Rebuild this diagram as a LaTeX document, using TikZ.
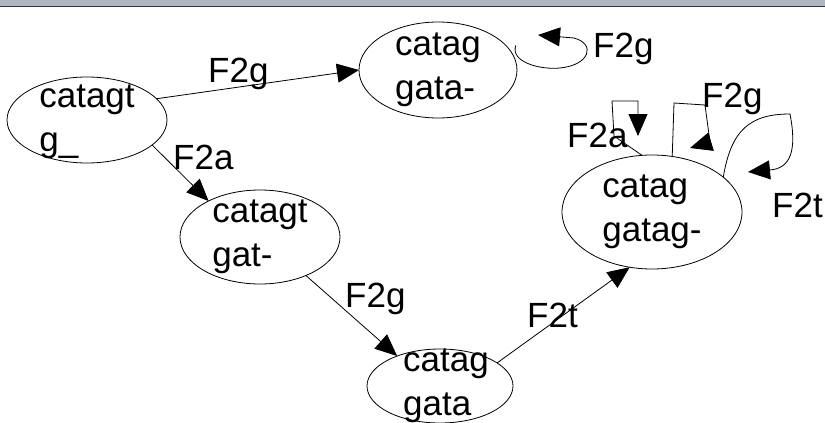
\documentclass[tikz,border=0pt]{standalone}
\usepackage{fontspec}
\setmainfont{Liberation Sans}
\usepackage{tikz}
\usetikzlibrary{arrows.meta,shapes.geometric,calc}
\definecolor{band}{HTML}{AEB6BF}
\definecolor{bandline}{HTML}{303438}

\begin{document}
\begin{tikzpicture}[x=1pt,y=-1pt,
  state/.style={draw,ellipse,line width=.8pt,inner sep=0pt,outer sep=0pt},
  statetext/.style={align=left,inner sep=0pt,font=\fontsize{35}{44}\selectfont},
  lbl/.style={anchor=base west,inner sep=0pt,font=\fontsize{35}{40}\selectfont},
  edge/.style={line width=.8pt,-{Triangle[length=22pt,width=19pt]}},
  loopedge/.style={edge,rounded corners=0pt}]
  \useasboundingbox (0,0) rectangle (825,423);
  % scanned header band
  \fill[band] (0,0) rectangle (825,6);
  \draw[bandline,line width=1.5pt] (0,6.5) -- (825,6.5);
  % states
  \node[state,minimum width=160pt,minimum height=86pt] (s1) at (87,120) {};
  \node[statetext] (t1) at ([yshift=-2pt]s1) {catagt\\g\_};
  \node[state,minimum width=158pt,minimum height=96pt] (s2) at (438,70) {};
  \node[statetext] (t2) at (s2) {catag\\gata-};
  \node[state,minimum width=160pt,minimum height=94pt] (s3) at (260,237) {};
  \node[statetext] (t3) at (s3) {catagt\\gat-};
  \node[state,minimum width=146pt,minimum height=74pt] (s4) at (440,386) {};
  \node[statetext] (t4) at ([xshift=6pt]s4) {catag\\gata};
  \node[state,minimum width=180pt,minimum height=114pt] (s5) at (652,212) {};
  \node[statetext] (t5) at (s5) {catag\\gatag-};
  % transitions
  \draw[edge] (s1.17) -- (s2.180);
  \node[lbl] (l12) at (208,82) {F2g};
  \draw[edge] (s1.-21) -- (s3.145);
  \node[lbl] (l13) at (173,169) {F2a};
  \draw[edge] (s3.320) -- (s4.145);
  \node[lbl] (l34) at (345,307) {F2g};
  \draw[edge] (s4.22) -- (s5.248);
  \node[lbl] (l45) at (527,327) {F2t};
  % self loops
  \draw[edge] ([xshift=10pt]s2.20) .. controls (510,62) and (540,70) .. (560,68)
    .. controls (590,65) and (596,44) .. (574,38) -- (538,35);
  \node[lbl] (l22) at (593,57) {F2g};
  \draw[loopedge] (s5.100) -- (614,136) -- (612,101) -- (638,101) -- (638,136);
  \node[lbl] (l5a) at (567,147) {F2a};
  \draw[loopedge] (s5.70) -- (674,103) -- (705,105) -- (710,142) -- (690,148);
  \node[lbl] (l5g) at (702,107) {F2g};
  \draw[edge] (s5.26) .. controls (731,130) and (750,114) .. (790,114)
    .. controls (797,150) and (791,169) .. (769,170) -- (748,172);
  \node[lbl] (l5t) at (772,217) {F2t};
\end{tikzpicture}
\end{document}
